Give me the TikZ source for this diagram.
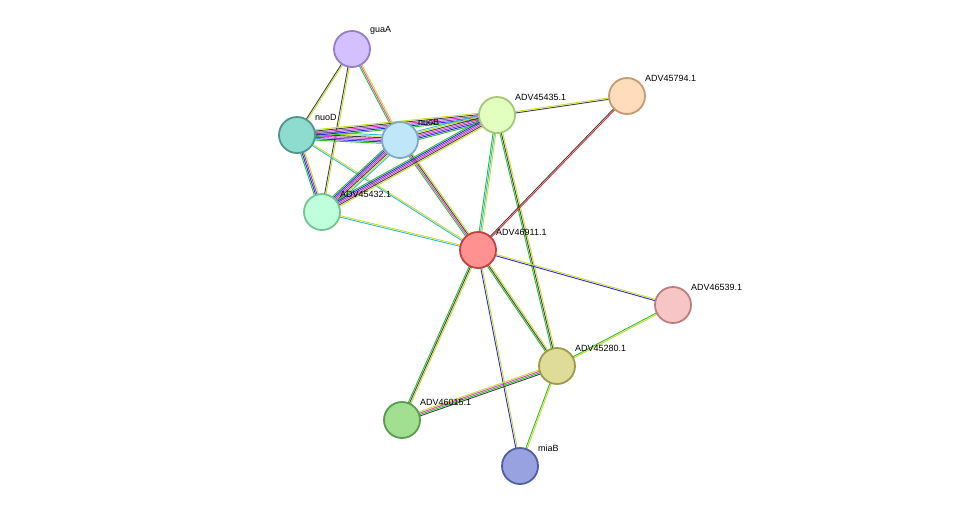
\documentclass[tikz,border=0pt]{standalone}
\usepackage{fontspec}
\setmainfont{Liberation Sans}
\usetikzlibrary{calc}
\definecolor{cgreen}{HTML}{2DBE2D}
\definecolor{cblue}{HTML}{2A2AE0}
\definecolor{cyel}{HTML}{C8DC28}
\definecolor{cmag}{HTML}{E040C8}
\definecolor{ccyan}{HTML}{30B8D8}
\definecolor{cblk}{HTML}{404040}
\definecolor{cred}{HTML}{E03030}
\definecolor{cpur}{HTML}{8040C0}
\newcommand{\medge}[4]{% a, b, n, colours
  \foreach \cc [count=\ii] in {#4}{
    \pgfmathsetmacro{\off}{(\ii-(#3+1)/2)*1.4}
    \draw[line width=0.9pt,\cc] ($(#1)!\off pt!90:(#2)$) -- ($(#2)!\off pt!-90:(#1)$);
  }}
\tikzset{prot/.style={circle,minimum size=36pt,inner sep=0pt,line width=1.8pt},
  lab/.style={font=\fontsize{9}{10}\selectfont,anchor=south west,inner sep=1pt}}
\begin{document}
\begin{tikzpicture}[x=1pt,y=-1pt]
\useasboundingbox (0,0) rectangle (975,512);
\coordinate (guaA) at (352,49);
\coordinate (nuoD) at (297,135);
\coordinate (nuoB) at (400,140);
\coordinate (p435) at (497,115);
\coordinate (p794) at (627,96);
\coordinate (p432) at (322,212);
\coordinate (p911) at (478,250);
\coordinate (p539) at (673,305);
\coordinate (p280) at (557,366);
\coordinate (p015) at (402,420);
\coordinate (miaB) at (520,466);
\medge{guaA}{nuoD}{2}{cblk,cyel}
\medge{guaA}{nuoB}{3}{cgreen,cmag,cyel}
\medge{guaA}{p432}{2}{cblk,cyel}
\medge{nuoD}{nuoB}{7}{cgreen,cblue,cpur,cmag,cblk,cyel,ccyan}
\medge{nuoD}{p435}{6}{cgreen,cblue,cpur,cmag,cblk,cyel}
\medge{nuoD}{p432}{4}{cgreen,cblue,cpur,cyel}
\medge{nuoD}{p911}{2}{ccyan,cyel}
\medge{nuoB}{p435}{7}{cgreen,cblue,cpur,cmag,cblk,cyel,ccyan}
\medge{nuoB}{p432}{7}{cgreen,cblue,cpur,cmag,cblk,cyel,ccyan}
\medge{nuoB}{p911}{4}{cgreen,cmag,cblk,cyel}
\medge{p435}{p432}{6}{cgreen,cblue,cpur,cmag,cblk,cyel}
\medge{p435}{p794}{2}{cblk,cyel}
\medge{p435}{p911}{3}{cgreen,ccyan,cyel}
\medge{p435}{p280}{3}{cgreen,cblk,cyel}
\medge{p794}{p911}{2}{cblk,cred}
\medge{p432}{p911}{2}{ccyan,cyel}
\medge{p911}{p539}{2}{cblue,cyel}
\medge{p911}{p280}{3}{cgreen,cblk,cyel}
\medge{p911}{p015}{3}{cgreen,cblk,cyel}
\medge{p911}{miaB}{2}{cblue,cyel}
\medge{p539}{p280}{2}{cgreen,cyel}
\medge{p280}{p015}{4}{cyel,cmag,cgreen,cblk}
\medge{p280}{miaB}{2}{cgreen,cyel}
\node[prot,fill={rgb,255:red,212;green,192;blue,255},draw={rgb,255:red,150;green,125;blue,200}] (nguaA) at (guaA) {};
\node[prot,fill={rgb,255:red,142;green,220;blue,208},draw={rgb,255:red,80;green,150;blue,140}] (nnuoD) at (nuoD) {};
\node[prot,fill={rgb,255:red,192;green,230;blue,250},draw={rgb,255:red,128;green,170;blue,195}] (nnuoB) at (nuoB) {};
\node[prot,fill={rgb,255:red,226;green,255;blue,192},draw={rgb,255:red,165;green,200;blue,120}] (n435) at (p435) {};
\node[prot,fill={rgb,255:red,255;green,220;blue,188},draw={rgb,255:red,195;green,155;blue,115}] (n794) at (p794) {};
\node[prot,fill={rgb,255:red,192;green,255;blue,220},draw={rgb,255:red,115;green,195;blue,145}] (n432) at (p432) {};
\node[prot,fill={rgb,255:red,255;green,145;blue,145},draw={rgb,255:red,195;green,65;blue,65}] (n911) at (p911) {};
\node[prot,fill={rgb,255:red,246;green,198;blue,198},draw={rgb,255:red,190;green,125;blue,125}] (n539) at (p539) {};
\node[prot,fill={rgb,255:red,222;green,220;blue,150},draw={rgb,255:red,155;green,155;blue,80}] (n280) at (p280) {};
\node[prot,fill={rgb,255:red,160;green,224;blue,144},draw={rgb,255:red,90;green,155;blue,80}] (n015) at (p015) {};
\node[prot,fill={rgb,255:red,152;green,162;blue,224},draw={rgb,255:red,80;green,95;blue,160}] (nmiaB) at (miaB) {};
\node[lab] at ($(guaA)+(17,-13)$) {guaA};
\node[lab] at ($(nuoD)+(17,-13)$) {nuoD};
\node[lab] at ($(nuoB)+(17,-13)$) {nuoB};
\node[lab] at ($(p435)+(17,-13)$) {ADV45435.1};
\node[lab] at ($(p794)+(17,-13)$) {ADV45794.1};
\node[lab] at ($(p432)+(17,-13)$) {ADV45432.1};
\node[lab] at ($(p911)+(17,-13)$) {ADV46911.1};
\node[lab] at ($(p539)+(17,-13)$) {ADV46539.1};
\node[lab] at ($(p280)+(17,-13)$) {ADV45280.1};
\node[lab] at ($(p015)+(17,-13)$) {ADV46015.1};
\node[lab] at ($(miaB)+(17,-13)$) {miaB};
\end{tikzpicture}
\end{document}
